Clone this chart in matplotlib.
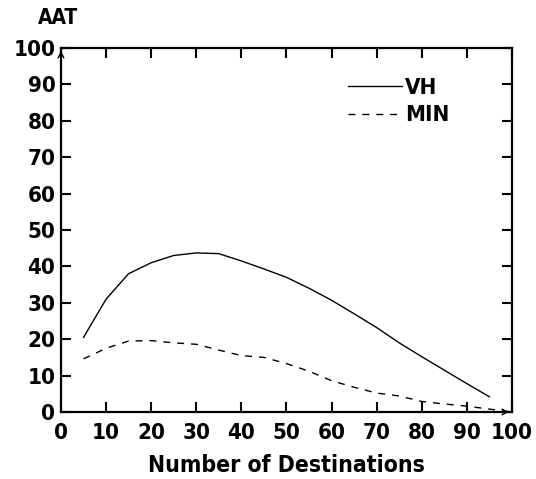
import matplotlib.pyplot as plt

# values
dest = [5, 10, 15, 20, 25, 30, 35, 40, 45, 50, 55, 60, 65, 70, 75, 80, 85, 90, 95]
vh = [20.5, 31, 38, 41, 43, 43.7, 43.5, 41.5, 39.3, 37, 34, 30.7, 27, 23.2, 19, 15.2, 11.5, 7.8, 4.2]
dest_min = [5, 10, 15, 20, 25, 30, 35, 40, 45, 50, 55, 60, 65, 70, 75, 80, 85, 90, 95, 100]
mn = [14.6, 17.5, 19.5, 19.6, 19, 18.6, 17, 15.5, 15, 13.3, 11.2, 8.6, 6.8, 5.2, 4.4, 2.9, 2.2, 1.6, 0.8, 0]
ticks = [0, 10, 20, 30, 40, 50, 60, 70, 80, 90, 100]

plt.rcParams['font.family'] = ['DejaVu Sans']
plt.rcParams['font.stretch'] = 'condensed'

fig = plt.figure(figsize=(5.36, 4.79), dpi=100)
ax = fig.add_axes([0.1138, 0.1399, 0.8412, 0.7599])

ax.plot(dest, vh, color='black', lw=1.0, label='VH')
ax.plot(dest_min, mn, color='black', lw=1.0, dashes=(5, 5), label='MIN')

ax.set_xlim(0, 100)
ax.set_ylim(0, 100)
ax.set_xticks(ticks)
ax.set_yticks(ticks)
ax.tick_params(direction='in', length=7, width=1.5, top=True, right=True,
               labelsize=16, pad=4)
for lab in ax.get_xticklabels() + ax.get_yticklabels():
    lab.set_fontweight('bold')
ax.tick_params(axis='x', pad=8)
for s in ax.spines.values():
    s.set_linewidth(1.6)

# little arrow heads at the axis ends
ax.annotate('', xy=(0, 100), xytext=(0, 96),
            arrowprops=dict(arrowstyle='->', lw=1.0, color='black'))
ax.annotate('', xy=(100, 0), xytext=(96, 0),
            arrowprops=dict(arrowstyle='->', lw=1.0, color='black'))

ax.set_xlabel('Number of Destinations', fontsize=16.5, fontweight='bold', labelpad=8)
fig.text(0.07, 0.962, 'AAT', fontsize=15, fontweight='bold', va='center', ha='left')

leg = ax.legend(loc='upper left', bbox_to_anchor=(0.593, 0.972), frameon=False,
                handlelength=2.4, handletextpad=0.15, labelspacing=0.32,
                prop={'size': 16, 'weight': 'bold'})

fig.savefig('out.png', dpi=100)
